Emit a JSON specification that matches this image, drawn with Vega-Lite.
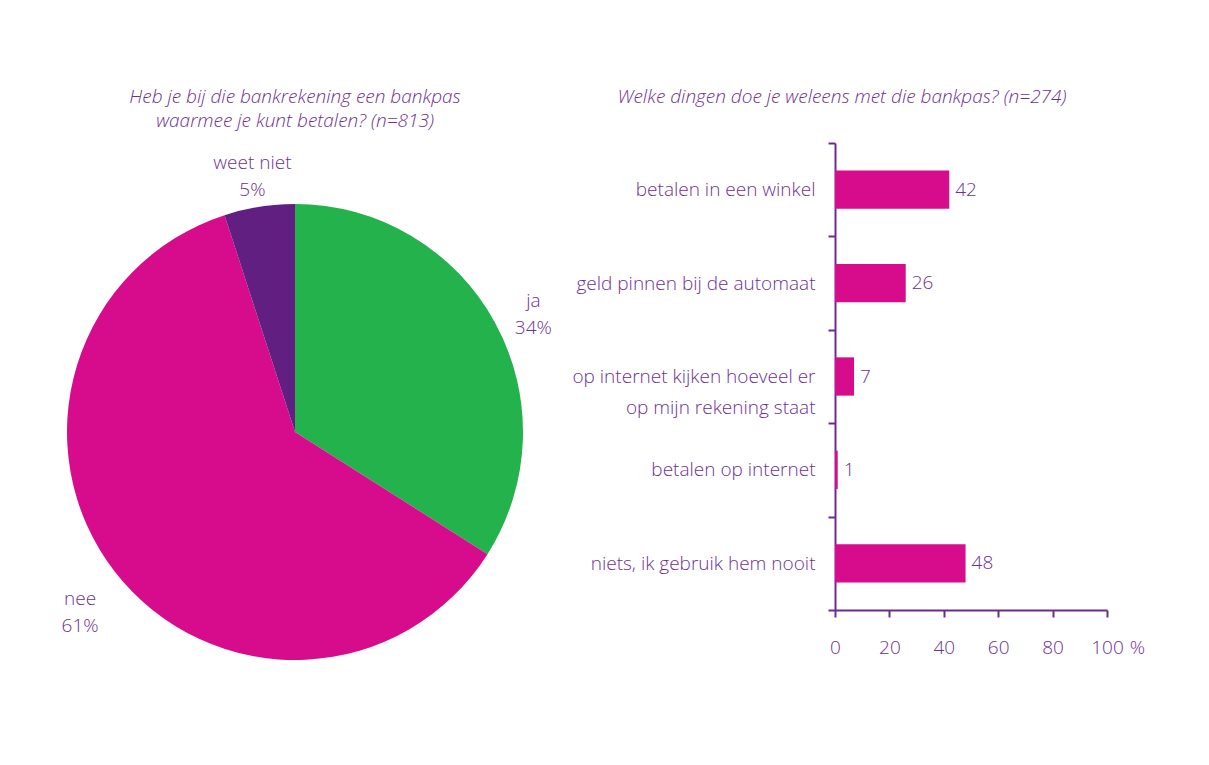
{
  "$schema": "https://vega.github.io/schema/vega-lite/v6.json",
  "padding": {"left": 25, "top": 88, "right": 0, "bottom": 0},
  "background": "white",
  "config": {
    "font": "Open Sans",
    "view": {"stroke": null},
    "concat": {"spacing": 6},
    "title": {"fontStyle": "italic", "fontWeight": 300, "fontSize": 19, "color": "#6E3192", "font": "Open Sans"}
  },
  "hconcat": [
    {
      "width": 540,
      "height": 578,
      "title": {"text": ["Heb je bij die bankrekening een bankpas", "waarmee je kunt betalen? (n=813)"], "lineHeight": 24, "offset": 12},
      "data": {"values": [
        {"antwoord": "ja", "pct": 34},
        {"antwoord": "nee", "pct": 61},
        {"antwoord": "weet niet", "pct": 5}
      ]},
      "transform": [{"calculate": "[datum.antwoord, datum.pct + '%']", "as": "label"}],
      "encoding": {
        "theta": {"field": "pct", "type": "quantitative", "stack": true}
      },
      "layer": [
        {
          "mark": {"type": "arc", "outerRadius": 228},
          "encoding": {
            "color": {"field": "antwoord", "type": "nominal", "scale": {"domain": ["ja", "nee", "weet niet"], "range": ["#23B24C", "#D60C8C", "#621F82"]}, "legend": null}
          }
        },
        {
          "mark": {"type": "text", "radius": 272, "fontSize": 19, "fontWeight": 300, "color": "#6E3192", "lineHeight": 27},
          "encoding": {"text": {"field": "label"}}
        }
      ]
    },
    {
      "width": 272,
      "height": 467,
      "title": {"text": "Welke dingen doe je weleens met die bankpas? (n=274)", "offset": 27, "dx": -129},
      "data": {"values": [
        {"activiteit": "betalen in een winkel", "pct": 42},
        {"activiteit": "geld pinnen bij de automaat", "pct": 26},
        {"activiteit": "op internet kijken hoeveel er|op mijn rekening staat", "pct": 7},
        {"activiteit": "betalen op internet", "pct": 1},
        {"activiteit": "niets, ik gebruik hem nooit", "pct": 48}
      ]},
      "encoding": {
        "y": {
          "field": "activiteit", "type": "nominal", "sort": null,
          "scale": {"paddingInner": 0, "paddingOuter": 0},
          "axis": {
            "title": null, "tickBand": "extent", "labelExpr": "split(datum.label, '|')",
            "domainColor": "#6B2C91", "domainWidth": 2, "tickColor": "#6B2C91", "tickWidth": 2, "tickSize": 7,
            "labelPadding": 13, "labelFontSize": 19, "labelFontWeight": 300, "labelColor": "#6E3192", "labelLineHeight": 31, "labelLimit": 400
          }
        },
        "x": {
          "field": "pct", "type": "quantitative",
          "scale": {"domain": [0, 100], "nice": false},
          "axis": {
            "title": "%", "values": [0, 20, 40, 60, 80, 100], "grid": false,
            "domainColor": "#6B2C91", "domainWidth": 2, "tickColor": "#6B2C91", "tickWidth": 2, "tickSize": 7,
            "labelPadding": 21, "labelFontSize": 19, "labelFontWeight": 300, "labelColor": "#6E3192", "labelFlush": false,
            "titleX": 302, "titleY": 28, "titleBaseline": "top", "titleAlign": "center", "titleFontSize": 19, "titleFontWeight": 300, "titleColor": "#6E3192"
          }
        }
      },
      "layer": [
        {"mark": {"type": "bar", "color": "#D60C8C", "height": {"band": 0.41}}},
        {"mark": {"type": "text", "align": "left", "dx": 6, "fontSize": 19, "fontWeight": 300, "color": "#6E3192"}, "encoding": {"text": {"field": "pct"}}}
      ]
    }
  ]
}
